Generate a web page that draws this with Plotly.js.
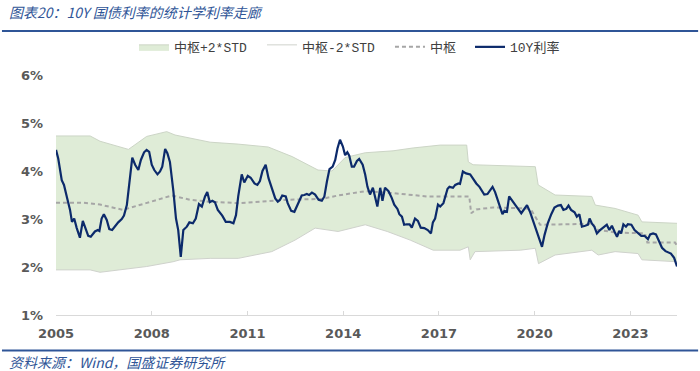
<!DOCTYPE html>
<html>
<head>
<meta charset="utf-8">
<script src="https://cdn.plot.ly/plotly-3.0.1.min.js"></script>
<style>
html,body{margin:0;padding:0;background:#fff;}
#chart{width:700px;height:371px;}
</style>
</head>
<body>
<div id="chart"></div>
<script>
// ---- data (decimal years, % yield) ----
const lineYears = [2005.00,2005.07,2005.18,2005.25,2005.35,2005.44,2005.50,2005.57,2005.65,2005.75,2005.84,2005.92,2006.01,2006.09,2006.22,2006.31,2006.36,2006.43,2006.50,2006.59,2006.67,2006.76,2006.85,2006.95,2007.06,2007.13,2007.22,2007.32,2007.39,2007.48,2007.58,2007.66,2007.76,2007.84,2007.92,2008.00,2008.08,2008.18,2008.26,2008.33,2008.42,2008.49,2008.57,2008.68,2008.76,2008.83,2008.91,2008.99,2009.10,2009.18,2009.29,2009.38,2009.48,2009.57,2009.67,2009.74,
2009.82,2009.90,2009.98,2010.07,2010.14,2010.21,2010.32,2010.45,2010.56,2010.64,2010.71,2010.82,2010.90,2011.01,2011.10,2011.22,2011.31,2011.39,2011.47,2011.57,2011.66,2011.74,2011.87,2011.95,2012.02,2012.09,2012.20,2012.26,2012.37,2012.47,2012.58,2012.70,2012.78,2012.86,2012.93,2013.02,2013.12,2013.23,2013.33,2013.41,2013.49,2013.57,2013.67,2013.75,2013.82,2013.90,2013.99,2014.06,2014.13,2014.19,2014.27,2014.34,2014.43,2014.50,
2014.61,2014.69,2014.76,2014.84,2014.93,2015.00,2015.07,2015.16,2015.23,2015.31,2015.42,2015.52,2015.60,2015.70,2015.76,2015.84,2015.91,2015.99,2016.08,2016.15,2016.25,2016.34,2016.43,2016.54,2016.65,2016.75,2016.81,2016.88,2016.97,2017.04,2017.14,2017.27,2017.33,2017.44,2017.51,2017.61,2017.66,2017.75,2017.85,2017.98,2018.08,2018.17,2018.27,2018.34,2018.42,2018.52,2018.61,2018.68,2018.76,2018.85,2018.92,2018.99,2019.05,2019.13,2019.20,2019.29,2019.39,
2019.47,2019.58,2019.65,2019.76,2019.86,2019.96,2020.07,2020.15,2020.23,2020.31,2020.41,2020.52,2020.62,2020.73,2020.82,2020.90,2020.99,2021.06,2021.14,2021.25,2021.32,2021.40,2021.48,2021.58,2021.67,2021.72,2021.79,2021.87,2021.95,2022.05,2022.16,2022.26,2022.34,2022.42,2022.50,2022.58,2022.65,2022.71,2022.78,2022.86,2022.92,2023.03,2023.13,2023.24,2023.34,2023.44,2023.55,2023.62,2023.71,2023.80,2023.89,2023.99,2024.10,2024.19,2024.27,2024.37,2024.46];
const yield10Y = [4.44,4.26,3.81,3.71,3.43,3.19,2.94,3.01,2.81,2.61,2.96,2.81,2.65,2.63,2.74,2.77,2.75,3.01,3.10,2.98,2.79,2.77,2.85,2.93,3.00,3.07,3.29,3.92,4.28,4.13,4.02,4.23,4.39,4.44,4.40,4.13,4.02,3.93,3.99,4.09,4.46,4.37,4.19,3.57,3.01,2.77,2.21,2.77,2.84,2.93,2.91,3.01,3.31,3.26,3.47,3.56,
3.35,3.38,3.35,3.19,3.14,3.07,2.94,2.94,2.91,3.08,3.47,3.93,3.76,3.90,3.86,3.74,3.71,3.79,4.00,4.13,3.85,3.69,3.43,3.36,3.40,3.49,3.47,3.33,3.17,3.15,3.33,3.49,3.50,3.52,3.50,3.55,3.51,3.40,3.38,3.47,3.78,4.04,4.09,4.23,4.47,4.65,4.51,4.33,4.39,4.32,4.09,4.09,4.21,4.25,
4.13,3.92,3.67,3.51,3.65,3.44,3.26,3.65,3.38,3.65,3.58,3.44,3.30,3.21,3.10,3.05,2.88,2.89,2.89,2.82,3.01,2.96,2.82,2.81,2.77,2.70,2.93,3.01,3.30,3.26,3.33,3.63,3.67,3.65,3.71,3.74,3.73,3.99,3.95,3.93,3.83,3.74,3.67,3.60,3.51,3.52,3.60,3.67,3.56,3.38,3.21,3.10,3.17,3.15,3.47,3.38,3.30,
3.22,3.12,3.19,3.29,3.14,2.94,2.70,2.54,2.42,2.67,2.91,3.10,3.24,3.28,3.29,3.19,3.21,3.28,3.19,3.14,3.05,3.10,2.84,2.86,2.88,3.01,2.91,2.84,2.70,2.77,2.82,2.88,2.77,2.86,2.74,2.63,2.75,2.70,2.89,2.84,2.89,2.88,2.77,2.70,2.65,2.65,2.58,2.68,2.70,2.68,2.54,2.40,2.33,2.31,2.28,2.19,2.01];

const midYears = [2005.00,2005.85,2006.38,2007.10,2007.82,2008.63,2009.20,2009.83,2010.71,2012.27,2013.34,2013.84,2014.69,2015.38,2016.63,2017.88,2017.95,2018.01,2018.17,2018.70,2019.76,2019.89,2020.02,2020.17,2021.83,2021.93,2022.52,2023.46,2023.53,2024.40,2024.46];
const midValues = [3.34,3.34,3.30,3.19,3.33,3.49,3.40,3.36,3.33,3.40,3.42,3.49,3.58,3.55,3.47,3.48,3.47,3.12,3.20,3.24,3.22,3.19,3.05,2.88,2.90,2.78,2.72,2.70,2.51,2.51,2.44];

const upperYears = [2005.00,2006.07,2006.38,2007.27,2007.84,2008.47,2008.73,2009.83,2010.71,2011.65,2012.40,2013.21,2013.65,2014.06,2014.69,2015.56,2016.19,2017.04,2017.87,2017.92,2018.07,2019.55,2020.02,2020.11,2020.64,2021.79,2021.90,2022.52,2023.24,2023.36,2024.40,2024.46];
const upperValues = [4.73,4.73,4.62,4.45,4.72,4.82,4.75,4.60,4.56,4.50,4.30,4.02,4.00,4.28,4.38,4.42,4.48,4.54,4.54,4.19,4.13,4.11,4.09,3.71,3.50,3.47,3.29,3.22,3.08,2.94,2.91,2.91];

const lowerYears = [2005.00,2006.07,2006.38,2007.01,2007.84,2008.67,2008.89,2009.83,2010.71,2011.76,2012.49,2013.12,2013.84,2014.69,2015.38,2016.10,2016.82,2017.66,2017.92,2017.98,2018.13,2019.55,2020.02,2020.12,2020.64,2021.79,2021.99,2022.52,2023.24,2023.36,2024.40,2024.46];
const lowerValues = [1.94,1.94,1.89,1.94,2.01,2.11,2.15,2.18,2.18,2.32,2.56,2.81,2.74,2.88,2.74,2.56,2.35,2.35,2.42,2.15,2.32,2.35,2.39,2.07,2.25,2.35,2.25,2.32,2.28,2.15,2.11,2.11];

const tickYears = [2005,2008,2011,2014,2017,2020,2023];
const tickLabels = ['2005','2008','2011','2014','2017','2020','2023'];
const yTicks = [1,2,3,4,5,6];
const yTickLabels = ['1%','2%','3%','4%','5%','6%'];
const seriesNames = ['中枢+2*STD','中枢-2*STD','中枢','10Y利率'];
const titleText = '图表20：10Y 国债利率的统计学利率走廊';
const sourceText = '资料来源：Wind，国盛证券研究所';

const traces = [
  {x: upperYears, y: upperValues, name: seriesNames[0], type:'scatter', mode:'lines', legend:'legend',
   fill:'tozeroy', fillcolor:'#DFECD7', line:{color:'#CCD5C6', width:1}, hoverinfo:'skip'},
  {x: lowerYears, y: lowerValues, name: seriesNames[1], type:'scatter', mode:'lines', legend:'legend2',
   fill:'tozeroy', fillcolor:'#FFFFFF', line:{color:'#CFD2CC', width:1}, hoverinfo:'skip'},
  {x: midYears, y: midValues, name: seriesNames[2], type:'scatter', mode:'lines', legend:'legend3',
   line:{color:'#A6A6A6', width:2, dash:'4px,3px'}, hoverinfo:'skip'},
  {x: lineYears, y: yield10Y, name: seriesNames[3], type:'scatter', mode:'lines', legend:'legend4',
   line:{color:'#0C2A6B', width:2.2}, hoverinfo:'skip'}
];

const blue = '#2F5597';
const legendFont = {family:'Liberation Mono, Noto Sans CJK SC, sans-serif', size:13, color:'#404040'};
function legendAt(px){
  return {orientation:'h', x:px, xanchor:'left', y:1.117, yanchor:'middle', font:legendFont,
          itemwidth:30, bgcolor:'rgba(0,0,0,0)', borderwidth:0};
}
const layout = {
  width:700, height:371,
  margin:{l:56, r:23, t:75, b:56},
  paper_bgcolor:'#FFFFFF', plot_bgcolor:'rgba(0,0,0,0)',
  showlegend:true,
  legend: legendAt(0.1256),
  legend2: legendAt(0.3317),
  legend3: legendAt(0.5378),
  legend4: legendAt(0.6667),
  xaxis:{type:'linear', range:[2005, 2024.46], tickmode:'array', tickvals:tickYears, ticktext:tickLabels,
    showgrid:false, zeroline:false, showline:true, linecolor:'#D9D9D9', linewidth:1,
    ticks:'inside', ticklen:4, tickcolor:'#D9D9D9', ticklabelstandoff:6,
    tickfont:{family:'DejaVu Sans, sans-serif', size:13, color:'#595959', weight:'bold'}},
  yaxis:{range:[1,6], tickmode:'array', tickvals:yTicks, ticktext:yTickLabels,
    showgrid:false, zeroline:false, showline:false, ticks:'', ticklabelstandoff:12,
    tickfont:{family:'DejaVu Sans, sans-serif', size:13, color:'#595959', weight:'bold'}},
  shapes:[
    {type:'line', xref:'paper', yref:'paper', x0:-0.087, x1:1.034, y0:1.183, y1:1.183, line:{color:blue, width:2}},
    {type:'line', xref:'paper', yref:'paper', x0:-0.087, x1:1.034, y0:-0.148, y1:-0.148, line:{color:blue, width:2}}
  ],
  annotations:[
    {text:titleText, xref:'paper', yref:'paper', x:-0.079, y:1.262, xanchor:'left', yanchor:'middle', showarrow:false,
     font:{family:'Noto Sans CJK SC, sans-serif', size:14, color:blue, style:'italic'}},
    {text:sourceText, xref:'paper', yref:'paper', x:-0.079, y:-0.196, xanchor:'left', yanchor:'middle', showarrow:false,
     font:{family:'Noto Sans CJK SC, sans-serif', size:14, color:blue, style:'italic'}}
  ]
};

Plotly.newPlot('chart', traces, layout, {staticPlot:true, displayModeBar:false});
</script>
</body>
</html>
